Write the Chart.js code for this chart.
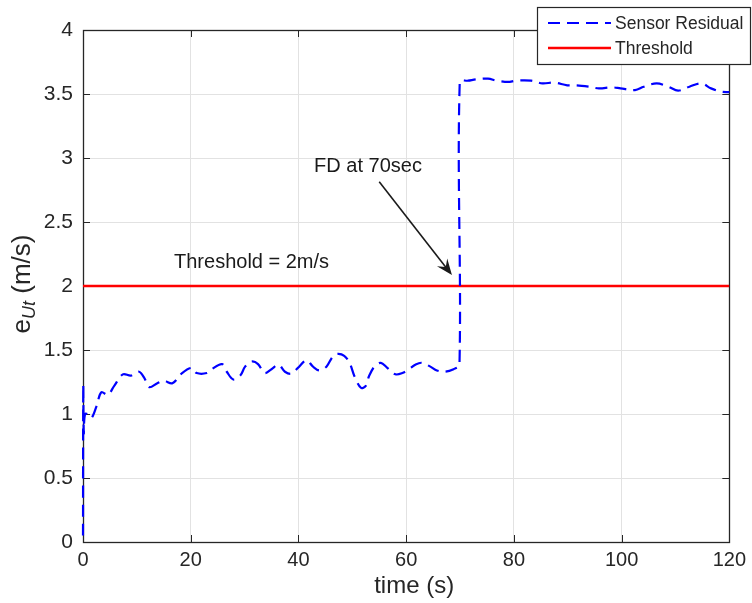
<!DOCTYPE html>
<html><head><meta charset="utf-8">
<script src="https://cdn.jsdelivr.net/npm/chart.js@4.4.0/dist/chart.umd.min.js"></script>
<style>html,body{margin:0;padding:0;background:#fff}#wrap{width:752px;height:603px}</style>
</head><body><div id="wrap"><canvas id="c" width="752" height="603"></canvas></div>
<script>
// ---- data ----
const times = [
  0, 0.05, 0.15, 0.4, 1.2, 1.6, 2.5, 3.4, 4.6, 5.8,
  7.4, 8.9, 10.4, 11.4, 12.3, 13.8, 15.0, 16.6, 18.4, 20.2,
  21.1, 23.0, 23.9, 25.8, 26.7, 27.9, 29.2, 30.1, 31.3, 32.5,
  33.7, 35.0, 36.3, 37.5, 38.7, 39.9, 41.5, 42.7, 43.9, 45.2,
  46.4, 47.3, 48.5, 49.5, 50.4, 51.6, 52.5, 53.1, 54.1, 55.3,
  56.5, 58.0, 59.3, 60.5, 61.7, 62.9, 64.5, 65.7, 67.2, 68.8,
  69.9, 69.95, 71.5, 73.1, 75.2, 76.8, 78.9, 80.4, 83.2, 85.3,
  87.5, 89.9, 91.5, 93.9, 95.8, 98.2, 99.8, 102.5, 104.1, 106.5,
  108.7, 110.5, 112.6, 114.8, 116.6, 118.5, 120
];
const residual = [
  0.05, 1.22, 0.85, 1.0, 0.99, 0.97, 1.06, 1.17, 1.15, 1.22,
  1.31, 1.30, 1.33, 1.28, 1.21, 1.24, 1.26, 1.24, 1.32, 1.36,
  1.32, 1.32, 1.35, 1.39, 1.33, 1.27, 1.30, 1.37, 1.41, 1.39,
  1.32, 1.35, 1.385, 1.33, 1.315, 1.36, 1.42, 1.37, 1.34, 1.37,
  1.45, 1.47, 1.455, 1.40, 1.295, 1.205, 1.22, 1.295, 1.37, 1.40,
  1.36, 1.31, 1.32, 1.35, 1.385, 1.40, 1.37, 1.34, 1.33, 1.35,
  1.385, 3.596, 3.604, 3.615, 3.62, 3.604, 3.594, 3.604, 3.604, 3.583,
  3.589, 3.568, 3.568, 3.557, 3.544, 3.552, 3.544, 3.531, 3.557, 3.583,
  3.557, 3.526, 3.557, 3.583, 3.544, 3.518, 3.515
];
const thresholdTimes = [0, 120];
const thresholdValues = [2, 2];
const xTicks = [0, 20, 40, 60, 80, 100, 120];
const yTicks = [0, 0.5, 1, 1.5, 2, 2.5, 3, 3.5, 4];
const seriesLabels = ['Sensor Residual', 'Threshold'];
const xTitle = 'time (s)';
const yTitleMain = 'e';
const yTitleSub = 'Ut';
const yTitleUnit = ' (m/s)';
const fdText = 'FD at 70sec';
const fdTextAt = [42.9, 2.93];
const fdArrowFrom = [55.0, 2.815];
const fdArrowTo = [68.5, 2.086];
const thrText = 'Threshold = 2m/s';
const thrTextAt = [16.9, 2.18];

// ---- styles ----
const FONT = '"Liberation Sans", Arial, Helvetica, sans-serif';
const AXC = '#262626';
const BLUE = '#0000ff';
const RED = '#ff0000';

const residualData = times.map((t, i) => ({x: t, y: residual[i]}));
const thresholdData = thresholdTimes.map((t, i) => ({x: t, y: thresholdValues[i]}));

const decor = {
  id: 'decor',
  beforeDatasetsDraw(chart) {
    const {ctx, chartArea: a, scales: {x, y}} = chart;
    ctx.save();
    ctx.strokeStyle = AXC;
    ctx.lineWidth = 1;
    ctx.beginPath();
    xTicks.forEach(v => {
      const px = Math.round(x.getPixelForValue(v)) + 0.5;
      ctx.moveTo(px, a.bottom); ctx.lineTo(px, a.bottom - 7);
      ctx.moveTo(px, a.top); ctx.lineTo(px, a.top + 7);
    });
    yTicks.forEach(v => {
      const py = Math.round(y.getPixelForValue(v)) + 0.5;
      ctx.moveTo(a.left, py); ctx.lineTo(a.left + 7, py);
      ctx.moveTo(a.right, py); ctx.lineTo(a.right - 7, py);
    });
    ctx.stroke();
    ctx.lineWidth = 1.3;
    ctx.strokeRect(Math.round(a.left) + 0.5, Math.round(a.top) + 0.5,
                   Math.round(a.right - a.left), Math.round(a.bottom - a.top));
    ctx.restore();
  },
  afterDraw(chart) {
    const {ctx, chartArea: a, scales: {x, y}} = chart;
    ctx.save();
    // annotations
    ctx.fillStyle = '#1a1a1a';
    ctx.font = '20px ' + FONT;
    ctx.textBaseline = 'middle';
    ctx.textAlign = 'left';
    ctx.fillText(fdText, x.getPixelForValue(fdTextAt[0]), y.getPixelForValue(fdTextAt[1]));
    ctx.fillText(thrText, x.getPixelForValue(thrTextAt[0]), y.getPixelForValue(thrTextAt[1]));
    // arrow
    const x0 = x.getPixelForValue(fdArrowFrom[0]), y0 = y.getPixelForValue(fdArrowFrom[1]);
    const x1 = x.getPixelForValue(fdArrowTo[0]), y1 = y.getPixelForValue(fdArrowTo[1]);
    const ang = Math.atan2(y1 - y0, x1 - x0);
    const L = 16, W = 6.5;
    ctx.strokeStyle = '#1a1a1a';
    ctx.lineWidth = 1.6;
    ctx.beginPath();
    ctx.moveTo(x0, y0);
    ctx.lineTo(x1 - Math.cos(ang) * 8, y1 - Math.sin(ang) * 8);
    ctx.stroke();
    ctx.beginPath();
    ctx.moveTo(x1, y1);
    ctx.lineTo(x1 - L * Math.cos(ang) + W * Math.sin(ang), y1 - L * Math.sin(ang) - W * Math.cos(ang));
    ctx.lineTo(x1 - 10 * Math.cos(ang), y1 - 10 * Math.sin(ang));
    ctx.lineTo(x1 - L * Math.cos(ang) - W * Math.sin(ang), y1 - L * Math.sin(ang) + W * Math.cos(ang));
    ctx.closePath();
    ctx.fill();

    // axis titles
    ctx.fillStyle = AXC;
    ctx.textAlign = 'center';
    ctx.textBaseline = 'alphabetic';
    ctx.font = '24px ' + FONT;
    ctx.fillText(xTitle, (a.left + a.right) / 2 + 8, 593);

    // y title (rotated, with subscript)
    ctx.save();
    ctx.translate(30, (a.top + a.bottom) / 2 - 2);
    ctx.rotate(-Math.PI / 2);
    const fMain = '26px ' + FONT, fSub = 'italic 18px ' + FONT;
    ctx.font = fMain; const wE = ctx.measureText(yTitleMain).width;
    const wU = ctx.measureText(yTitleUnit).width;
    ctx.font = fSub; const wS = ctx.measureText(yTitleSub).width;
    let cx = -(wE + wS + wU) / 2;
    ctx.textAlign = 'left';
    ctx.font = fMain; ctx.fillText(yTitleMain, cx, 0); cx += wE;
    ctx.font = fSub; ctx.fillText(yTitleSub, cx, 5); cx += wS;
    ctx.font = fMain; ctx.fillText(yTitleUnit, cx, 0);
    ctx.restore();

    // legend
    const lx = 537, ly = 7, lw = 213, lh = 57;
    ctx.fillStyle = '#fff';
    ctx.fillRect(lx, ly, lw, lh);
    ctx.strokeStyle = AXC;
    ctx.lineWidth = 1.2;
    ctx.strokeRect(lx + 0.5, ly + 0.5, lw, lh);
    const ds = chart.data.datasets;
    const rows = [23, 48];
    ds.forEach((d, i) => {
      ctx.strokeStyle = d.borderColor;
      ctx.lineWidth = d.borderWidth;
      ctx.setLineDash(d.borderDash || []);
      ctx.beginPath();
      ctx.moveTo(548, rows[i]); ctx.lineTo(611, rows[i]);
      ctx.stroke();
      ctx.setLineDash([]);
      ctx.fillStyle = AXC;
      ctx.font = '17.5px ' + FONT;
      ctx.textAlign = 'left';
      ctx.textBaseline = 'middle';
      ctx.fillText(d.label, 615, rows[i] + 1);
    });
    ctx.restore();
  }
};

new Chart(document.getElementById('c'), {
  type: 'line',
  data: {
    datasets: [
      {label: seriesLabels[0], data: residualData, borderColor: BLUE, borderWidth: 2.2,
       borderDash: [12, 7], pointRadius: 0, tension: 0.35, fill: false, clip: 6, order: 1},
      {label: seriesLabels[1], data: thresholdData, borderColor: RED, borderWidth: 2.5,
       pointRadius: 0, tension: 0, fill: false, order: 2}
    ]
  },
  options: {
    responsive: false, animation: false, devicePixelRatio: 1,
    layout: {padding: {left: 0, top: 30, right: 17, bottom: 0}},
    plugins: {legend: {display: false}, tooltip: {enabled: false}},
    scales: {
      x: {
        type: 'linear', min: 0, max: 120,
        afterBuildTicks: s => { s.ticks = xTicks.map(v => ({value: v})); },
        afterFit: s => { s.height = 61; },
        ticks: {color: AXC, font: {size: 20, family: FONT}, padding: 6, maxRotation: 0,
                callback: v => String(v)},
        grid: {color: '#e2e2e2', drawTicks: false, lineWidth: 1},
        border: {display: false}
      },
      y: {
        type: 'linear', min: 0, max: 4,
        afterBuildTicks: s => { s.ticks = yTicks.map(v => ({value: v})); },
        afterFit: s => { s.width = 83; },
        ticks: {color: AXC, font: {size: 21, family: FONT}, padding: 10,
                callback: v => String(v)},
        grid: {color: '#e2e2e2', drawTicks: false, lineWidth: 1},
        border: {display: false}
      }
    }
  },
  plugins: [decor]
});
</script>
</body></html>
